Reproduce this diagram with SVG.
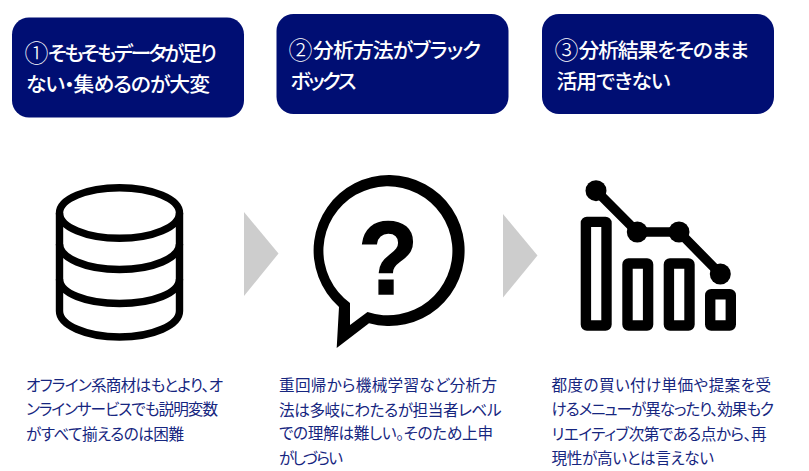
<svg xmlns="http://www.w3.org/2000/svg" width="809" height="471" viewBox="0 0 809 471">
<style>
text{font-family:"Noto Sans CJK JP","Noto Sans",sans-serif;font-feature-settings:"palt"}
.box{fill:#000e73}
.h{fill:#fff;font-size:20.8px;font-weight:500}
.c{font-feature-settings:normal;font-weight:300;font-size:24px}
.b{fill:#16267f;font-size:15.6px;font-weight:400}
.arrow{fill:#cdcdcd}
.ic{fill:none;stroke:#000;stroke-width:7.4}
.bar{fill:#fff;stroke:#000;stroke-width:10.4;stroke-linejoin:round}
</style>
<rect width="809" height="471" fill="#fff"/>
<g id="head1">
<rect class="box" x="12" y="17.500" width="232" height="100" rx="17"/>
<text class="h c" x="24.500" y="62">①</text>
<text class="h" x="48" y="61" textLength="169" lengthAdjust="spacing">そもそもデータが足り</text>
<text class="h" x="26" y="92" textLength="184" lengthAdjust="spacing">ない・集めるのが大変</text>
</g>
<g id="head2">
<rect class="box" x="276.500" y="14" width="232" height="100" rx="17"/>
<text class="h c" x="288.500" y="59">②</text>
<text class="h" x="313" y="58" textLength="168" lengthAdjust="spacing">分析方法がブラック</text>
<text class="h" x="290.500" y="89" textLength="66" lengthAdjust="spacing">ボックス</text>
</g>
<g id="head3">
<rect class="box" x="542" y="14" width="232" height="100" rx="17"/>
<text class="h c" x="554.500" y="59">③</text>
<text class="h" x="578.500" y="58" textLength="170.500" lengthAdjust="spacing">分析結果をそのまま</text>
<text class="h" x="556.500" y="89" textLength="114" lengthAdjust="spacing">活用できない</text>
</g>
<g id="connectors">
<polygon class="arrow" points="244,212 278.500,253.500 244,296"/>
<polygon class="arrow" points="503,214 537.500,255.500 503,297.500"/>
</g>
<g id="icon-database">
<ellipse class="ic" cx="119.500" cy="213" rx="60" ry="25.300"/>
<path class="ic" d="M59.500 213V311C59.500 325 86 337 119.500 337S179.500 325 179.500 311V213"/>
<path class="ic" d="M59.500 244C59.500 258 86 269.500 119.500 269.500S179.500 258 179.500 244"/>
<path class="ic" d="M59.500 279C59.500 293 86 303.500 119.500 303.500S179.500 293 179.500 279"/>
</g>
<g id="icon-question">
<path fill="#000" fill-rule="evenodd" d="M339 307A75.500 75.500 0 1 1 369 323.300L336.700 348ZM350 303A64.500 64.500 0 1 1 367.500 312L350 325Z"/>
<text transform="translate(388 293.500) scale(.94 1)" text-anchor="middle" stroke="#000" stroke-width="1.600" style="font-family:'Liberation Sans',sans-serif;font-size:104px;font-weight:700;font-feature-settings:normal">?</text>
</g>
<g id="icon-chart">
<rect class="bar" x="585.900" y="221.900" width="20.600" height="103.600" rx="1"/>
<rect class="bar" x="627.500" y="263.500" width="20.600" height="62" rx="1"/>
<rect class="bar" x="668.900" y="263.500" width="20.600" height="62" rx="1"/>
<rect class="bar" x="710.200" y="294.200" width="20.600" height="31.300" rx="1"/>
<polyline points="596,190.700 637.300,232 679,232 720.300,274" fill="none" stroke="#000" stroke-width="9.500"/>
<circle cx="596" cy="190.700" r="10.500"/><circle cx="637.300" cy="232" r="10.500"/><circle cx="679" cy="232" r="10.500"/><circle cx="720.300" cy="274" r="10.500"/>
</g>
<g id="desc1">
<text class="b" x="26" y="390.500" textLength="197" lengthAdjust="spacing">オフライン系商材はもとより、オ</text>
<text class="b" x="26" y="415" textLength="192" lengthAdjust="spacing">ンラインサービスでも説明変数</text>
<text class="b" x="26" y="440" textLength="158" lengthAdjust="spacing">がすべて揃えるのは困難</text>
</g>
<g id="desc2">
<text class="b" x="279" y="390.500" textLength="218" lengthAdjust="spacing">重回帰から機械学習など分析方</text>
<text class="b" x="279" y="416" textLength="222.500" lengthAdjust="spacing">法は多岐にわたるが担当者レベル</text>
<text class="b" x="279" y="439" textLength="214" lengthAdjust="spacing">での理解は難しい。そのため上申</text>
<text class="b" x="279" y="464" textLength="64" lengthAdjust="spacing">がしづらい</text>
</g>
<g id="desc3">
<text class="b" x="551.500" y="390.500" textLength="219.500" lengthAdjust="spacing">都度の買い付け単価や提案を受</text>
<text class="b" x="551.500" y="415" textLength="222.500" lengthAdjust="spacing">けるメニューが異なったり、効果もク</text>
<text class="b" x="551.500" y="439.500" textLength="215" lengthAdjust="spacing">リエイティブ次第である点から、再</text>
<text class="b" x="551.500" y="464" textLength="162.500" lengthAdjust="spacing">現性が高いとは言えない</text>
</g>
</svg>
